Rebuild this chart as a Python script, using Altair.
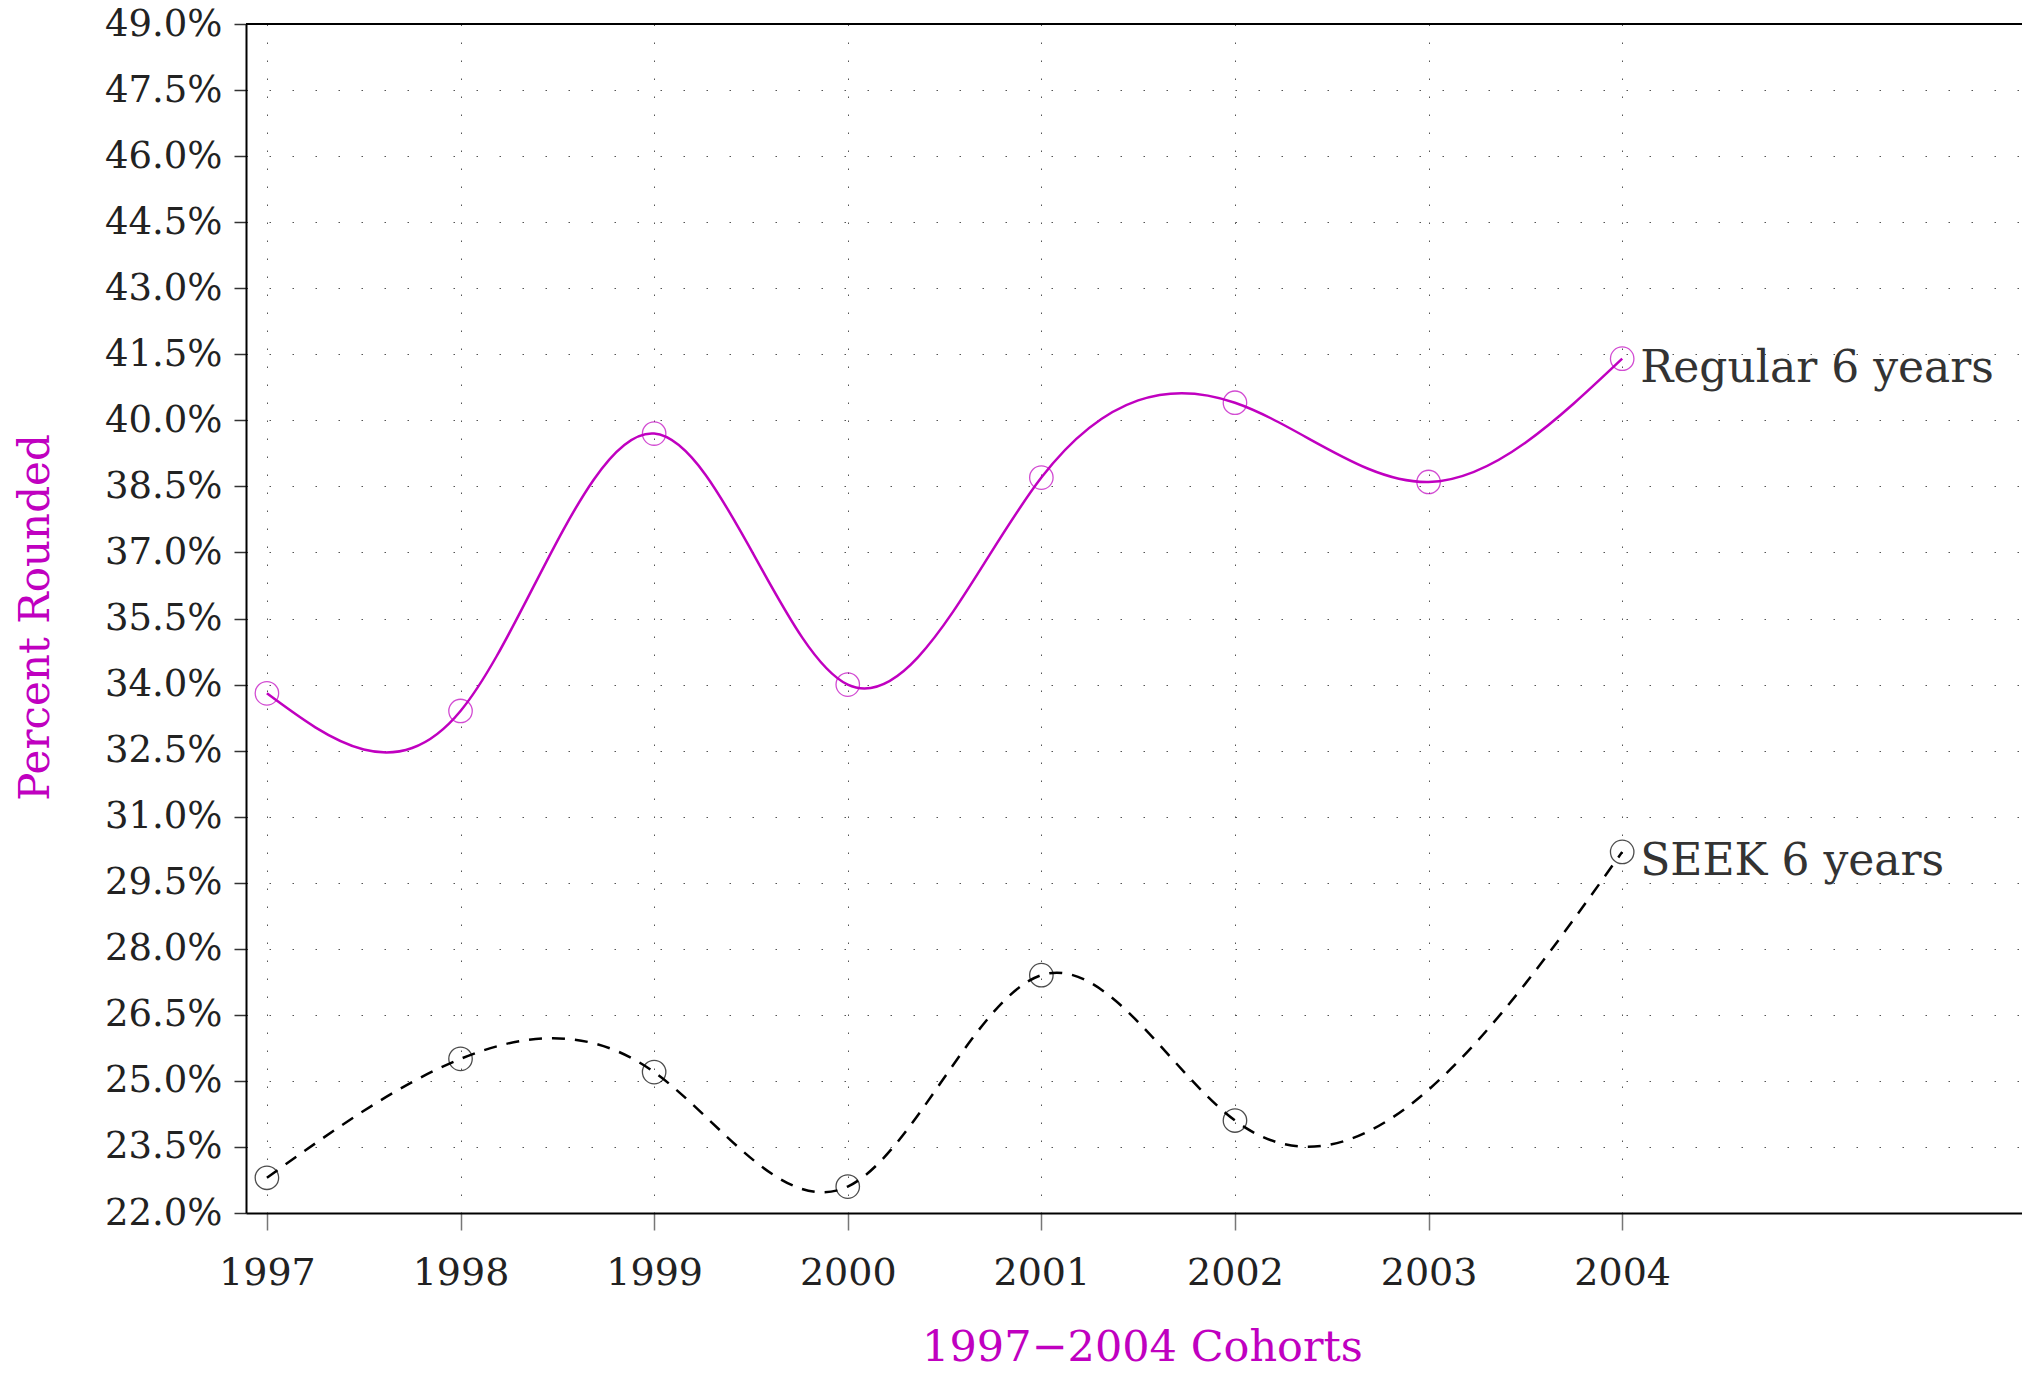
import altair as alt
import pandas as pd

years = [1997, 1998, 1999, 2000, 2001, 2002, 2003, 2004]
regular = [33.8, 33.4, 39.7, 34.0, 38.7, 40.4, 38.6, 41.4]
# SEEK: 2003 has no marker in the reference; the curve passes about 24.8 there
seek = [22.8, 25.5, 25.2, 22.6, 27.4, 24.1, 24.8, 30.2]
seek_marker = [True, True, True, True, True, True, False, True]
regular_marker = [True] * 8
series_names = ["Regular 6 years", "SEEK 6 years"]
series_colors = ["#C000C0", "#000000"]
y_ticks = [22.0, 23.5, 25.0, 26.5, 28.0, 29.5, 31.0, 32.5, 34.0, 35.5,
           37.0, 38.5, 40.0, 41.5, 43.0, 44.5, 46.0, 47.5, 49.0]
top_value = [49.0]

rows = []
for name, vals, marks in zip(series_names, [regular, seek], [regular_marker, seek_marker]):
    for yr, v, m in zip(years, vals, marks):
        rows.append({"year": yr, "value": v, "series": name, "marker": m})
df = pd.DataFrame(rows)

FONT = "DejaVu Serif"
MAG = "#C000C0"

x_enc = alt.X(
    "year:Q",
    scale=alt.Scale(domain=[1996.892, 2006.065], nice=False, zero=False),
    axis=alt.Axis(
        values=years, format="d", title="1997\u22122004 Cohorts",
        tickSize=17, tickColor="#777", tickWidth=1.5,
        labelPadding=24, labelFontSize=38,
        grid=True, gridDash=[1.5, 16.5], gridColor="#555", gridWidth=1,
        titleX=896, titleY=134, titleBaseline="middle", titleAlign="center",
        titleFontSize=43,
    ),
)
y_enc = alt.Y(
    "value:Q",
    scale=alt.Scale(domain=[22, 49], nice=False, zero=False),
    axis=alt.Axis(
        values=y_ticks, labelExpr="format(datum.value, '.1f') + '%'",
        title="Percent Rounded",
        tickSize=12, tickColor="#333", tickWidth=1.5,
        labelPadding=12, labelFontSize=37,
        grid=True, gridDash=[1.5, 21.5], gridColor="#555", gridWidth=1,
        titleX=-211, titleY=593, titleAngle=-90, titleBaseline="middle",
        titleAlign="center", titleFontSize=42,
    ),
)
stroke_scale = alt.Scale(domain=series_names, range=series_colors)

base = alt.Chart(df)

reg_line = base.transform_filter(alt.datum.series == series_names[0]).mark_line(
    interpolate="natural", color=MAG, strokeWidth=2.5
).encode(x=x_enc, y=y_enc)

seek_line = base.transform_filter(alt.datum.series == series_names[1]).mark_line(
    interpolate="natural", color="black", strokeWidth=2.5, strokeDash=[13, 10]
).encode(x=x_enc, y=y_enc)

points = base.transform_filter(alt.datum.marker).mark_point(
    shape="circle", filled=False, size=550, strokeWidth=1.3
).encode(
    x=x_enc, y=y_enc, stroke=alt.Stroke("series:N", scale=stroke_scale, legend=None)
)

labels = base.transform_filter(alt.datum.year == 2004).mark_text(
    align="left", baseline="middle", dx=18, dy=10, fontSize=44, font=FONT, color="#333"
).encode(x=x_enc, y=y_enc, text="series:N")

top_rule = alt.Chart(pd.DataFrame({"value": top_value})).mark_rule(
    color="black", strokeWidth=2
).encode(y=y_enc)

chart = alt.layer(top_rule, reg_line, seek_line, points, labels).properties(
    width=1776, height=1189,
    padding={"left": 238, "top": 16, "right": 0, "bottom": 158},
    autosize=alt.AutoSizeParams(type="none"),
    background="white",
).configure_view(stroke=None).configure_axis(
    labelFont=FONT, labelColor="#222", titleFont=FONT, titleColor=MAG,
    titleFontWeight="normal", domainColor="black", domainWidth=2,
)

chart.save("out.html", embed_options={"renderer": "svg", "actions": False})
